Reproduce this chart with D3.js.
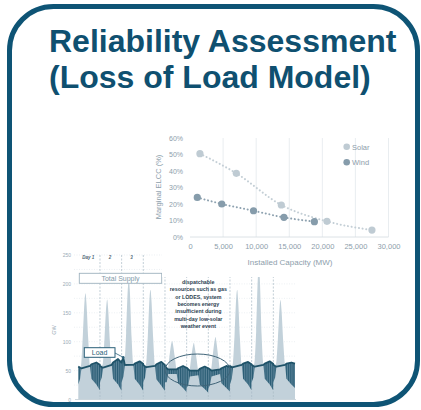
<!DOCTYPE html>
<html>
<head>
<meta charset="utf-8">
<script src="https://cdn.jsdelivr.net/npm/d3@7"></script>
<style>
  html, body { margin: 0; padding: 0; background: #fff; }
  svg { display: block; font-family: "Liberation Sans", Arial, sans-serif; }
</style>
</head>
<body>
<div id="chart"></div>
<script>
// ---- data: marginal ELCC scatter ----
const solarMW = [1500, 7000, 13800, 20700, 27500];
const solarELCC = [50.5, 38.6, 19.4, 9.5, 4.2];
const windMW = [1100, 4800, 9600, 14200, 18800];
const windELCC = [24, 20, 15.9, 11.9, 9.3];
const elccXTicks = [0, 5000, 10000, 15000, 20000, 25000, 30000];
const elccYTicks = [0, 10, 20, 30, 40, 50, 60];

// ---- data: 10-day dispatch (hour, GW) ----
const supplyPts = [
  [0,55],[3,58],[5,110],[7,172],[8,184],[9,168],[11,105],[13,58],
  [24,57],[27,60],[29,105],[31,162],[32,173],[33,158],[35,100],[37,60],
  [48,56],[51,60],[53,115],[55,195],[56,207],[57,190],[59,108],[61,60],
  [72,57],[75,60],[77,110],[79,178],[80,190],[81,172],[83,104],[85,58],
  [96,50],[99,52],[101,75],[103,97],[104,101],[105,94],[107,72],[109,52],
  [120,48],[123,50],[125,72],[127,93],[128,98],[129,90],[131,70],[133,50],
  [144,48],[147,52],[149,78],[151,102],[152,108],[153,99],[155,74],[157,52],
  [168,55],[171,60],[173,110],[175,178],[176,190],[177,172],[179,106],[181,60],
  [192,58],[195,62],[197,118],[199,215],[200,232],[201,210],[203,112],[205,62],
  [216,58],[219,62],[221,104],[223,160],[224,172],[225,156],[227,100],[229,62],
  [240,60]
];
const hours = [
  0,2,3.5,13,14.5,20,23.8,
  24,26,27.5,37,38.5,44,47.8,
  48,50,51.5,61,62.5,68,71.8,
  72,74,75.5,85,86.5,92,95.8,
  96,98,99.5,109,110.5,116,119.8,
  120,122,123.5,133,134.5,140,143.8,
  144,146,147.5,157,158.5,164,167.8,
  168,170,171.5,181,182.5,188,191.8,
  192,194,195.5,205,206.5,212,215.8,
  216,218,219.5,229,230.5,236,240
];
const loadGW = [
  57,55,54,58,61,64,60,
  58,56,55,60,64,70,64,
  66,72,60,60,62,66,62,
  60,57,56,58,61,65,60,
  58,54,52,52,54,58,55,
  55,52,50,50,53,57,54,
  54,52,50,52,54,58,56,
  58,56,56,60,62,65,61,
  60,58,57,60,62,66,62,
  60,58,57,60,62,64,62
];
const storageLowGW = [
  26,36,54,58,36,26,16,
  30,38,55,60,36,26,15,
  30,40,58,60,36,25,15,
  30,38,56,58,35,24,15,
  30,30,44,44,28,20,13,
  20,26,40,42,26,18,12,
  18,26,40,44,28,20,14,
  26,36,56,60,36,26,16,
  30,38,57,60,36,26,16,
  30,38,57,60,36,26,20
];
const gwTicks = [0, 50, 100, 150, 200, 250];
const dayLines = [24, 48, 72, 96, 120, 144, 168, 192, 216];
const dayLabels = ["Day 1", "2", "3"];
const noteLines = ["dispatchable", "resources such as gas", "or LODES, system",
  "becomes energy", "insufficient during", "multi-day low-solar", "weather event"];

const svg = d3.select("#chart").append("svg")
  .attr("width", 421).attr("height", 410);

const defs = svg.append("defs");
const pat = defs.append("pattern").attr("id", "stripes")
  .attr("patternUnits", "userSpaceOnUse").attr("width", 1.8).attr("height", 4);
pat.append("rect").attr("width", 1.8).attr("height", 4).attr("fill", "#6a90a4");
pat.append("rect").attr("width", 1.1).attr("height", 4).attr("fill", "#295c74");

// ---------- bottom dispatch chart ----------
const gx = d3.scaleLinear().domain([0, 240]).range([78.3, 295]);
const gy = d3.scaleLinear().domain([0, 250]).range([399.5, 255]);
const disp = svg.append("g");

disp.selectAll(".hgrid")
  .data(d3.range(25, 251, 25))
  .enter().append("line")
  .attr("x1", 74).attr("x2", 296)
  .attr("y1", d => gy(d)).attr("y2", d => gy(d))
  .attr("stroke", "#dfe6eb").attr("stroke-width", 0.6)
  .attr("stroke-dasharray", "1,1.5");

disp.append("path")
  .datum(supplyPts)
  .attr("fill", "#c2d1da")
  .attr("d", d3.area().x(d => gx(d[0])).y0(gy(0)).y1(d => gy(d[1])).curve(d3.curveMonotoneX));

disp.selectAll(".dayline")
  .data(dayLines)
  .enter().append("line")
  .attr("x1", d => gx(d)).attr("x2", d => gx(d))
  .attr("y1", gy(250)).attr("y2", gy(0))
  .attr("stroke", "#a9bac5").attr("stroke-width", 0.7)
  .attr("stroke-dasharray", "2,1.5");

const storage = hours.map((h, i) => [h, loadGW[i], storageLowGW[i]]);
disp.append("path")
  .datum(storage)
  .attr("fill", "url(#stripes)")
  .attr("d", d3.area().x(d => gx(d[0])).y0(d => gy(d[2])).y1(d => gy(d[1])));

disp.append("path")
  .datum(storage)
  .attr("fill", "none")
  .attr("stroke", "#1f5369").attr("stroke-width", 1.8)
  .attr("stroke-linejoin", "round")
  .attr("d", d3.line().x(d => gx(d[0])).y(d => gy(d[1])));

disp.append("line")
  .attr("x1", 75).attr("x2", 296).attr("y1", gy(0)).attr("y2", gy(0))
  .attr("stroke", "#c3ced5").attr("stroke-width", 0.8);

const gAxis = disp.append("g")
  .attr("transform", "translate(71,0)")
  .call(d3.axisLeft(gy).tickValues(gwTicks).tickSize(0).tickPadding(0));
gAxis.select(".domain").remove();
gAxis.selectAll("text").attr("fill", "#9aabb6").style("font-size", "5px");

disp.append("text")
  .attr("transform", "translate(56,330) rotate(-90)")
  .attr("text-anchor", "middle").attr("fill", "#9aabb6")
  .style("font-size", "5.5px").text("GW");

disp.selectAll(".daylab")
  .data(dayLabels)
  .enter().append("text")
  .attr("x", (d, i) => gx(i * 24 + 11)).attr("y", 258.5)
  .attr("text-anchor", "middle").attr("fill", "#4d6473")
  .style("font-size", "4.5px").style("font-weight", "bold").style("font-style", "italic")
  .text(d => d);

disp.append("rect")
  .attr("x", 79.3).attr("y", 273.3).attr("width", 82.4).attr("height", 10)
  .attr("fill", "#fff").attr("stroke", "#9fb2be").attr("stroke-width", 0.9);
disp.append("text")
  .attr("x", 120.5).attr("y", 280.8).attr("text-anchor", "middle")
  .attr("fill", "#8399a8").style("font-size", "7px").text("Total Supply");

disp.append("line")
  .attr("x1", 115).attr("y1", 353).attr("x2", gx(49.8)).attr("y2", gy(73))
  .attr("stroke", "#2a5f78").attr("stroke-width", 0.8);
disp.append("circle")
  .attr("cx", gx(49.8)).attr("cy", gy(73)).attr("r", 1.2).attr("fill", "#2a5f78");
disp.append("rect")
  .attr("x", 84.3).attr("y", 347.7).attr("width", 30.7).attr("height", 9.6)
  .attr("fill", "#fff").attr("stroke", "#2a5f78").attr("stroke-width", 1);
disp.append("text")
  .attr("x", 99.6).attr("y", 355).attr("text-anchor", "middle")
  .attr("fill", "#2a5f78").style("font-size", "7px").text("Load");

disp.append("ellipse")
  .attr("cx", 197.5).attr("cy", 370).attr("rx", 32.5).attr("ry", 16)
  .attr("fill", "none").attr("stroke", "#3f6478").attr("stroke-width", 1);

disp.selectAll(".note")
  .data(noteLines)
  .enter().append("text")
  .attr("x", 198.3).attr("y", (d, i) => 284 + i * 7.3)
  .attr("text-anchor", "middle").attr("fill", "#2c4150")
  .style("font-size", "5.3px").style("font-weight", "bold")
  .text(d => d);

// ---------- ELCC scatter (sits on top with white background) ----------
svg.append("rect")
  .attr("x", 162).attr("y", 128).attr("width", 252).attr("height", 149)
  .attr("fill", "#fff");

const ex = d3.scaleLinear().domain([0, 30000]).range([190, 388.5]);
const ey = d3.scaleLinear().domain([0, 60]).range([237, 138]);
const sc = svg.append("g");

sc.selectAll(".vgrid")
  .data(elccXTicks.slice(1))
  .enter().append("line")
  .attr("x1", d => ex(d)).attr("x2", d => ex(d))
  .attr("y1", ey(60)).attr("y2", ey(0))
  .attr("stroke", "#e3e8ec").attr("stroke-width", 0.8);

sc.append("line")
  .attr("x1", ex(0)).attr("x2", ex(30000)).attr("y1", ey(0)).attr("y2", ey(0))
  .attr("stroke", "#d3dbe0").attr("stroke-width", 0.8);

const xAx = sc.append("g")
  .attr("transform", `translate(0,${ey(0)})`)
  .call(d3.axisBottom(ex).tickValues(elccXTicks).tickSize(0).tickPadding(7)
    .tickFormat(d3.format(",")));
xAx.select(".domain").remove();
xAx.selectAll("text").attr("fill", "#8d9eab").style("font-size", "7.5px");

const yAx = sc.append("g")
  .attr("transform", `translate(${ex(0) - 7},0)`)
  .call(d3.axisLeft(ey).tickValues(elccYTicks).tickSize(0).tickPadding(0)
    .tickFormat(d => d + "%"));
yAx.select(".domain").remove();
yAx.selectAll("text").attr("fill", "#8d9eab").style("font-size", "7px");

sc.append("text")
  .attr("x", 290).attr("y", 265).attr("text-anchor", "middle")
  .attr("fill", "#8d9eab").style("font-size", "8px").text("Installed Capacity (MW)");
sc.append("text")
  .attr("transform", "translate(160.5,187) rotate(-90)")
  .attr("text-anchor", "middle").attr("fill", "#8d9eab")
  .style("font-size", "7.5px").text("Marginal ELCC (%)");

const series = [
  { name: "Solar", xs: solarMW, ys: solarELCC, fill: "#bfcbd3", line: "#c4cfd6" },
  { name: "Wind", xs: windMW, ys: windELCC, fill: "#869cab", line: "#8ea2b0" }
];

series.forEach((s, k) => {
  const pts = s.xs.map((v, i) => [v, s.ys[i]]);
  sc.append("path")
    .datum(pts)
    .attr("fill", "none").attr("stroke", s.line).attr("stroke-width", 2)
    .attr("stroke-linecap", "round").attr("stroke-dasharray", "0.1,3.6")
    .attr("d", d3.line().x(d => ex(d[0])).y(d => ey(d[1])).curve(d3.curveMonotoneX));
  sc.selectAll(".dot" + k)
    .data(pts)
    .enter().append("circle")
    .attr("cx", d => ex(d[0])).attr("cy", d => ey(d[1]))
    .attr("r", 3.6).attr("fill", s.fill);
  sc.append("circle")
    .attr("cx", 346.7).attr("cy", 146.7 + k * 15.6).attr("r", 3.3).attr("fill", s.fill);
  sc.append("text")
    .attr("x", 352).attr("y", 149.5 + k * 15.6)
    .attr("fill", "#8d9eab").style("font-size", "7.5px").text(s.name);
});

// ---------- frame and title ----------
svg.append("rect")
  .attr("x", 9.5).attr("y", 6.5).attr("width", 408).attr("height", 398)
  .attr("rx", 44).attr("ry", 44)
  .attr("fill", "none").attr("stroke", "#0e5475").attr("stroke-width", 5);

svg.selectAll(".title")
  .data(["Reliability Assessment", "(Loss of Load Model)"])
  .enter().append("text")
  .attr("x", 49).attr("y", (d, i) => 52 + i * 36)
  .attr("fill", "#0f5070")
  .style("font-size", "32px").style("font-weight", "bold")
  .text(d => d);
</script>
</body>
</html>
